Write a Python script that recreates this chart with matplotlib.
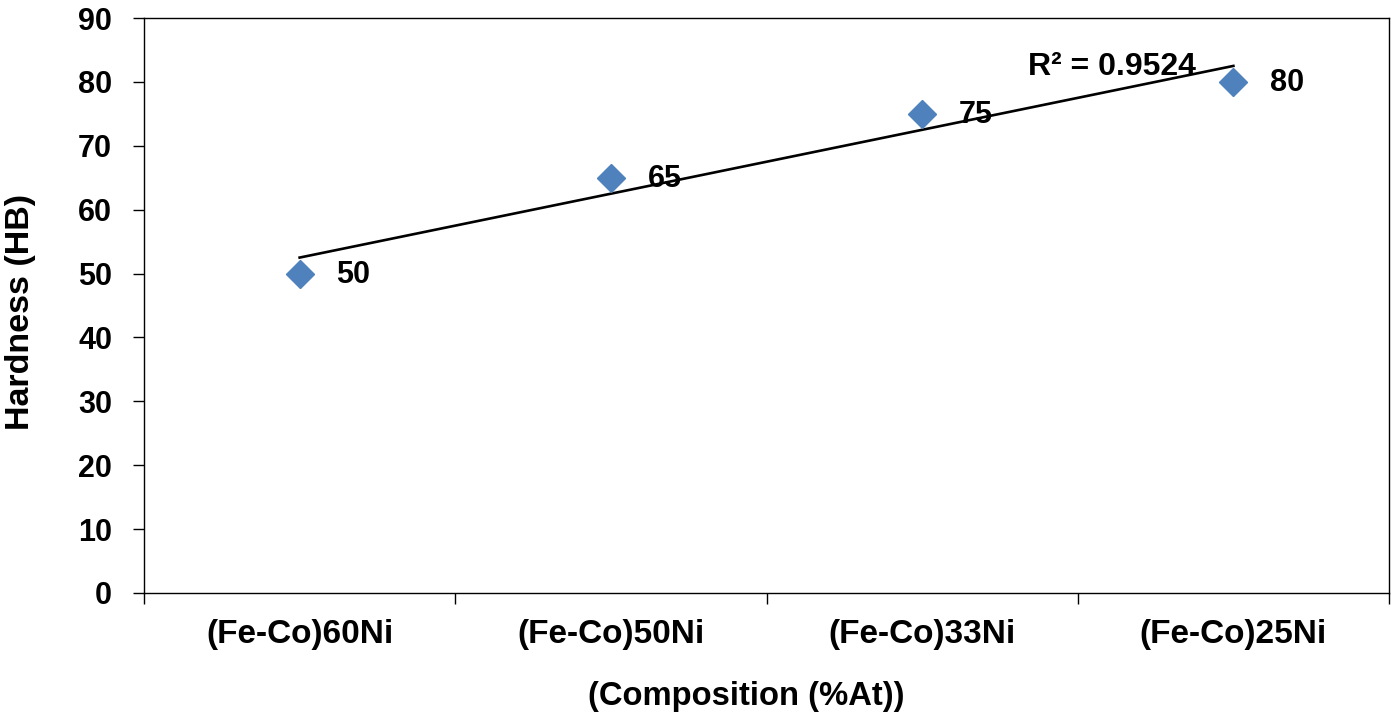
import numpy as np
import matplotlib
matplotlib.use("Agg")
import matplotlib.pyplot as plt

categories = ["(Fe-Co)60Ni", "(Fe-Co)50Ni", "(Fe-Co)33Ni", "(Fe-Co)25Ni"]
hardness = [50, 65, 75, 80]
yticks = [0, 10, 20, 30, 40, 50, 60, 70, 80, 90]

plt.rcParams['font.family'] = ['Liberation Sans', 'DejaVu Sans']
plt.rcParams['font.weight'] = 'bold'

fig = plt.figure(figsize=(13.91, 7.21), dpi=100)
ax = fig.add_axes([144/1391, 1 - 593/721, (1389 - 144)/1391, (593 - 18)/721])

x = np.arange(1, len(categories) + 1)
y = np.array(hardness, dtype=float)

# linear trendline
slope, intercept = np.polyfit(x, y, 1)
pred = slope * x + intercept
r2 = 1 - np.sum((y - pred) ** 2) / np.sum((y - y.mean()) ** 2)
ax.plot([x[0], x[-1]], [slope * x[0] + intercept, slope * x[-1] + intercept],
        color='black', lw=1.9, zorder=2)

ax.plot(x, y, linestyle='none', marker='D', markersize=14.5,
        color='#4F81BD', markeredgecolor='#4F81BD', zorder=3)

for xi, yi in zip(x, y):
    ax.annotate(f"{yi:.0f}", (xi, yi), xytext=(26.5, -1), textcoords='offset points',
                ha='left', va='center', fontsize=22, fontweight='bold')

ax.text(3.34, 82.3, f"R² = {r2:.4f}", ha='left', va='center', fontsize=23,
        fontweight='bold')

ax.set_xlim(0.5, len(categories) + 0.5)
ax.set_ylim(0, 90)
ax.set_yticks(yticks)
ax.set_yticklabels([str(t) for t in yticks], fontsize=22, fontweight='bold')
ax.set_xticks(x)
ax.set_xticklabels(categories, fontsize=24, fontweight='bold')
ax.set_xticks(np.arange(0.5, len(categories) + 1, 1), minor=True)
ax.tick_params(axis='x', which='major', length=0, pad=19)
ax.tick_params(axis='x', which='minor', length=8, width=1, direction='out')
ax.tick_params(axis='y', length=8, width=1, direction='out', pad=15)

for s in ax.spines.values():
    s.set_linewidth(1.0)
    s.set_color('black')

ax.set_ylabel("Hardness (HB)", fontsize=24.5, fontweight='bold')
ax.yaxis.set_label_coords(-(144 - 21)/1245, 1 - (312 - 18)/575)
ax.yaxis.label.set_va('center')
ax.set_xlabel("(Composition (%At))", fontsize=23.6, fontweight='bold')
ax.xaxis.set_label_coords((746 - 144)/1245, -(697 - 593)/575)
ax.xaxis.label.set_va('center')

fig.savefig("out.png", dpi=100)
